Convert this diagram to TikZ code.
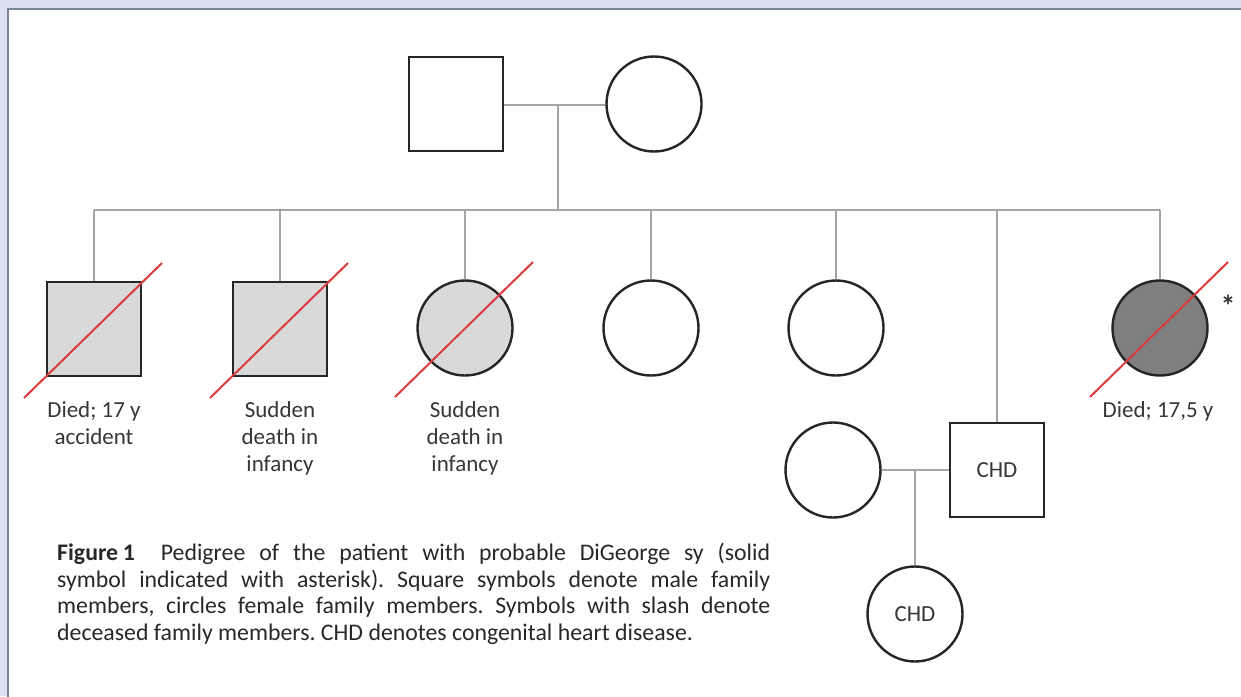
\documentclass[tikz,border=0pt]{standalone}
\usepackage{fontspec}
\setmainfont{Carlito}
\usetikzlibrary{calc}
\definecolor{bgblue}{RGB}{216,224,241}
\definecolor{edgec}{RGB}{120,135,150}
\definecolor{outl}{RGB}{38,38,38}
\definecolor{connc}{RGB}{165,165,165}
\definecolor{lightfill}{RGB}{217,217,217}
\definecolor{darkfill}{RGB}{127,127,127}
\definecolor{slashc}{RGB}{220,60,60}
\definecolor{txt}{RGB}{55,55,55}
\definecolor{captxt}{RGB}{40,40,40}
\frenchspacing
\begin{document}
\begin{tikzpicture}[x=1pt,y=-1pt,
  male/.style={rectangle, draw=outl, line width=2.4pt, minimum size=94pt, inner sep=0pt, text=txt, font=\fontsize{23}{27}\selectfont},
  female/.style={circle, draw=outl, line width=2.4pt, minimum size=95pt, inner sep=0pt, text=txt, font=\fontsize{23}{27}\selectfont},
  conn/.style={draw=connc, line width=1.8pt},
  slash/.style={draw=slashc, line width=2pt},
  lbl/.style={text=txt, font=\fontsize{23}{27}\selectfont, align=center, inner sep=0pt, anchor=north}
]
\useasboundingbox (0,0) rectangle (1241,696);
\fill[bgblue] (0,0) rectangle (1241,696);
\fill[white] (8,9) rectangle (1250,705);
\draw[edgec, line width=2pt] (8,705) -- (8,9) -- (1250,9);

% parents
\node[male] (f) at (456,104) {};
\node[female] (m) at (654,104) {};
\coordinate (mm) at (558,105);
\coordinate (sib) at (558,210);

% children
\node[male, fill=lightfill] (c1) at (94,329) {};
\node[male, fill=lightfill] (c2) at (280,329) {};
\node[female, fill=lightfill] (c3) at (465,328) {};
\node[female] (c4) at (651,328) {};
\node[female] (c5) at (836,328) {};
\node[male] (c6) at (997,470) {CHD};
\node[female, fill=darkfill] (c7) at (1160,328) {};

% third generation
\node[female] (sp) at (833,470) {};
\coordinate (mm2) at (915,470);
\node[female] (gc) at (915,614) {CHD};

% connectors
\draw[conn] (f.east |- mm) -- (m.west |- mm);
\draw[conn] (mm) -- (sib);
\draw[conn] (c1 |- sib) -- (c7 |- sib);
\foreach \c in {c1,c2,c3,c4,c5,c6,c7} \draw[conn] (\c |- sib) -- (\c);
\draw[conn] (sp) -- (c6);
\draw[conn] (mm2) -- (gc);

% slashes (deceased)
\foreach \c in {c1,c2,c3,c7}
  \draw[slash] ($(\c)+(-70,69)$) -- ($(\c)+(68,-66)$);

% labels
\node[lbl] (l1) at (94,401) {Died; 17 y\\accident};
\node[lbl] (l2) at (280,401) {Sudden\\death in\\infancy};
\node[lbl] (l3) at (465,401) {Sudden\\death in\\infancy};
\node[lbl] (l7) at (1158,401) {Died; 17,5 y};
\node[text=txt, font=\bfseries\fontsize{30}{30}\selectfont, inner sep=0pt] (ast) at (1228,306) {*};

% caption
\node[anchor=north west, text width=713pt, align=justify, inner sep=0pt, text=captxt,
      font=\fontsize{23.8}{26.5}\selectfont] (cap) at (57,543)
  {\textbf{Figure\hspace{0.2em}1}\hspace{0.5em} Pedigree of the patient with probable DiGeorge sy (solid\linebreak
   symbol indicated with asterisk). Square symbols denote male family\linebreak
   members, circles female family members. Symbols with slash denote\linebreak
   deceased family members. CHD denotes congenital heart disease.};
\end{tikzpicture}
\end{document}
